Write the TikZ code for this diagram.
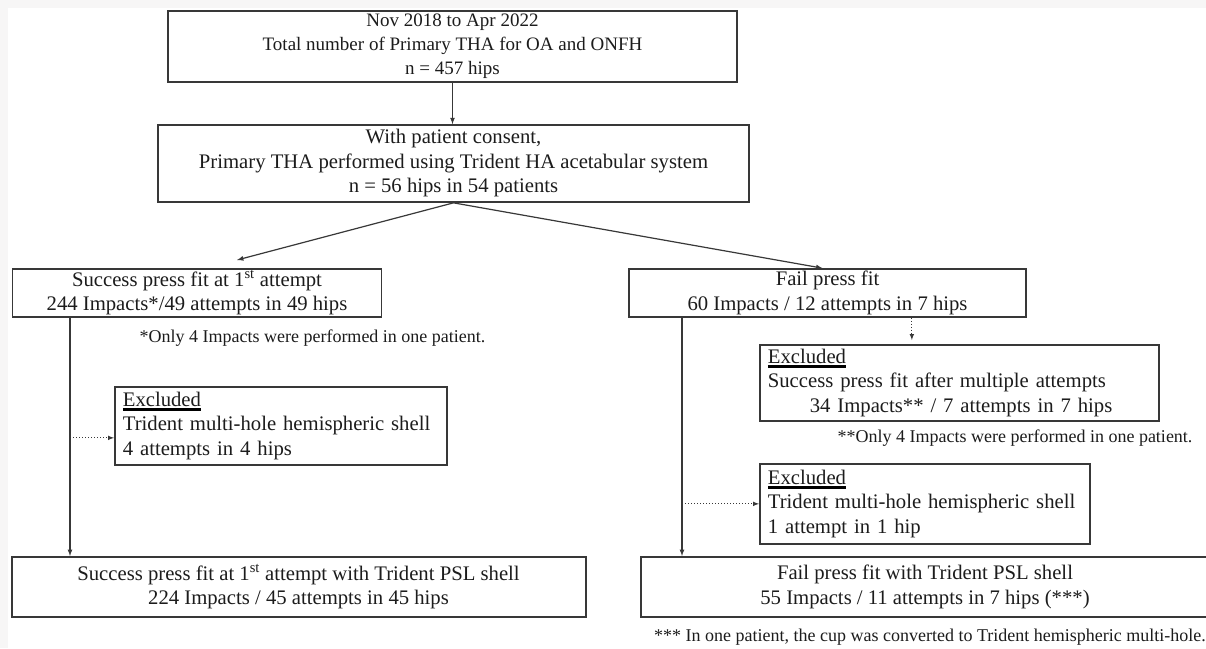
\documentclass[tikz,border=0pt]{standalone}
\usepackage{fontspec}
\setmainfont{Liberation Serif}
\usepackage{xcolor}
\usetikzlibrary{shapes,arrows,positioning,calc}

\definecolor{boxline}{HTML}{383838}
\definecolor{txt}{HTML}{1C1C1C}
\definecolor{margin}{HTML}{F7F6F6}

\newcommand{\exhead}[1]{\setbox0\hbox{#1}\rlap{\color{black}\rule[-4.5pt]{\wd0}{3pt}}\box0}

\tikzset{
    flowbox/.style={draw=boxline, line width=1.7pt, text=txt, align=center, inner sep=0pt},
    exbox/.style={draw=boxline, line width=1.7pt, text=txt, align=left, inner xsep=8pt, inner ysep=0pt, anchor=north west},
    note/.style={text=txt, inner sep=0pt, font=\fontsize{18}{22}\selectfont},
    mainarr/.style={-latex, draw=boxline, line width=1.2pt},
    dotarr/.style={-latex, draw=boxline, line width=1pt, dotted}
}

\begin{document}
\begin{tikzpicture}[x=1pt, y=-1pt, font=\fontsize{20.7}{24.5}\selectfont]
            \useasboundingbox (0,0) rectangle (1206,648);
            \fill[margin] (0,0) rectangle (1206,648);
            \fill[white] (8,8) rectangle (1206,648);

            \node[flowbox, font=\fontsize{19}{24}\selectfont, minimum width=569pt, minimum height=71pt] (total) at (452.5,46.5)
                {Nov 2018 to Apr 2022\\Total number of Primary THA for OA and ONFH\\n = 457 hips};
            \node[flowbox, minimum width=591pt, minimum height=77pt] (trident) at (453.5,163.5)
                {With patient consent,\\Primary THA performed using Trident HA acetabular system\\n = 56 hips in 54 patients};

            \node[flowbox, minimum width=369pt, minimum height=48pt] (success) at (197,293)
                {Success press fit at 1\textsuperscript{st} attempt\\244 Impacts*/49 attempts in 49 hips};
            \node[flowbox, minimum width=397pt, minimum height=48pt] (fail) at (827.5,293)
                {Fail press fit\\60 Impacts / 12 attempts in 7 hips};
            \node[note] (note1) at (312.5,338) {*Only 4 Impacts were performed in one patient.};

            \node[exbox, text width=316pt, minimum height=78pt] (exmulti) at (114,386)
                {\exhead{Excluded}\\Trident multi-hole hemispheric shell\\4 attempts in 4 hips};
            \node[exbox, text width=383pt, minimum height=76pt] (exafter) at (759,344)
                {\exhead{Excluded}\\Success press fit after multiple attempts\\\hspace*{42pt}34 Impacts** / 7 attempts in 7 hips};
            \node[note] (note2) at (1015,438) {**Only 4 Impacts were performed in one patient.};
            \node[exbox, text width=314pt, minimum height=80pt] (exmultiB) at (759,463)
                {\exhead{Excluded}\\Trident multi-hole hemispheric shell\\1 attempt in 1 hip};

            \node[flowbox, line width=2pt, minimum width=574pt, minimum height=60pt] (pslok) at (298.5,587)
                {Success press fit at 1\textsuperscript{st} attempt with Trident PSL shell\\224 Impacts / 45 attempts in 45 hips};
            \node[flowbox, line width=2pt, minimum width=568pt, minimum height=60pt] (pslfail) at (925,587)
                {Fail press fit with Trident PSL shell\\55 Impacts / 11 attempts in 7 hips (***)};
            \node[note, anchor=east] (note3) at (1206,637)
                {*** In one patient, the cup was converted to Trident hemispheric multi-hole.};

            \coordinate (lefttip) at (237,260);
            \coordinate (lrail) at (70,0);
            \coordinate (rrail) at (682,0);
            \coordinate (multiin) at ([yshift=-12pt]exmulti.west);
            \coordinate (aftertop) at ([xshift=-47.5pt]exafter.north);

            \draw[mainarr] (total.south) -- (total.south |- trident.north);
            \draw[mainarr] (trident.south) -- (lefttip);
            \draw[mainarr] (trident.south) -- ([xshift=-5pt]fail.north);
            \draw[mainarr] (success.south -| lrail) -- (pslok.north -| lrail);
            \draw[mainarr] (fail.south -| rrail) -- (pslfail.north -| rrail);

            \draw[dotarr] (multiin -| lrail) -- (multiin);
            \draw[dotarr, shorten >=4pt] (aftertop |- fail.south) -- (aftertop);
            \draw[dotarr] (exmultiB.west -| rrail) -- (exmultiB.west);
        \end{tikzpicture}
\end{document}
